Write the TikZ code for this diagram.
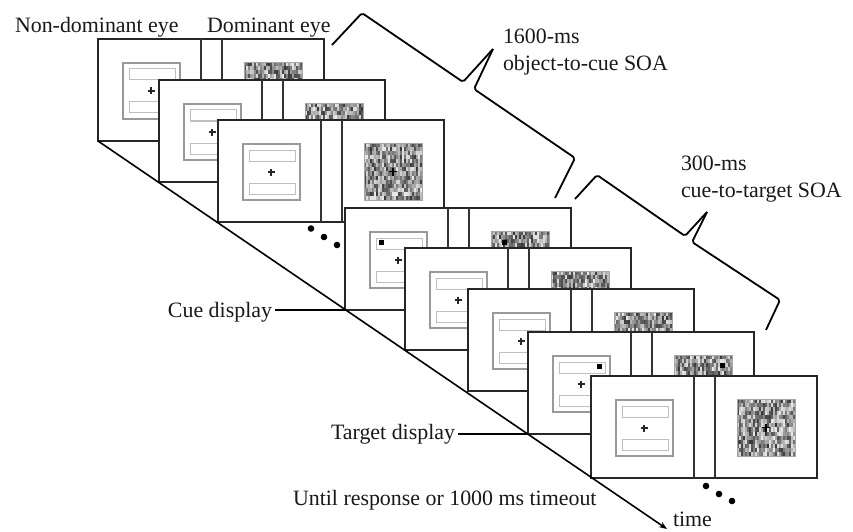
\documentclass[tikz,border=0pt]{standalone}
\usepackage{fontspec}
\setmainfont{Liberation Serif}
\usetikzlibrary{arrows.meta}
\begin{document}
\begin{tikzpicture}[x=1pt,y=-1pt,
  lbl/.style={font=\fontsize{21.9pt}{27pt}\selectfont, inner sep=0pt, outer xsep=3pt, text=black!90},
  frame/.style={fill=white, draw=black!85, line width=1.5pt},
  divider/.style={draw=black!80, line width=1.4pt},
  objsq/.style={draw=black!40, line width=1.3pt},
  bar/.style={draw=black!25, line width=1pt},
  fix/.style={draw=black!85, line width=1.6pt},
  cuesq/.style={fill=black},
  conn/.style={draw=black, line width=1.6pt},
  brace/.style={draw=black, line width=1.8pt, rounded corners=2pt, line join=round},
  dot/.style={fill=black}]
\useasboundingbox (0,0) rectangle (853,532);
\fill[white] (0,0) rectangle (853,532);
\pgfmathsetseed{4242}
% displays, back to front
\foreach \dx/\dy in {98/39,159/80,218/120,345/208,405/248,468/289,528/332,591/376}{
  \begin{scope}[shift={(\dx,\dy)}]
    \path[frame] (0,0) rectangle (226,102);
    \draw[divider] (103,0) -- (103,102);
    \draw[divider] (124,0) -- (124,102);
    % left eye: object frame with two bars and fixation cross
    \draw[objsq] (25,24) rectangle (82,80);
    \draw[bar] (31,30) rectangle (77,41);
    \draw[bar] (31,63) rectangle (77,74);
    \draw[fix] (49.5,52) -- (56.5,52);
    \draw[fix] (53,48.5) -- (53,55.5);
    % right eye: dynamic noise
    \fill[black!35] (146,23) rectangle (204,80);
    \foreach \i in {0,...,28}{
      \foreach \j in {0,...,13}{
        \pgfmathrandominteger{\g}{8}{78}
        \fill[black!\g] ({146+\i*2}, {23+\j*4.07}) rectangle ++(2.05,4.12);
      }
    }
    \draw[black!35, line width=0.8pt] (146,23) rectangle (204,80);
    \draw[black, line width=1.7pt] (171,51.5) -- (179,51.5);
    \draw[black, line width=1.7pt] (175,47.5) -- (175,55.5);
  \end{scope}
}
% cues
\fill[cuesq] (379,240) rectangle ++(4.5,4.5);
\fill[cuesq] (502,240) rectangle ++(4.5,4.5);
\fill[cuesq] (597,364) rectangle ++(4.5,4.5);
\fill[cuesq] (720,363) rectangle ++(4.5,4.5);
% corners on the time axis
\coordinate (start) at (98,141);
\coordinate (c4) at (345,310);
\coordinate (c7) at (528,434);
\coordinate (tend) at (667,529);
\draw[conn, -{Stealth[length=8pt,width=6pt]}] (start) -- (tend);
% ellipses
\foreach \p in {(311,228.5),(324,237),(337,245),(706,486),(719,494),(732,501)}
  \fill[dot] \p circle (3.3);
% braces
\draw[brace] (332,45) -- (362,13) -- (463,82) -- (493,49);
\draw[brace] (493,49) -- (474,89) -- (575,158) -- (555,198);
\draw[brace] (575,199) -- (597,175) -- (685,236) -- (707,212);
\draw[brace] (707,212) -- (692,242) -- (780,300) -- (766,330);
% labels
\node[lbl, anchor=base west] (nde) at (12,33) {Non-dominant eye};
\node[lbl, anchor=base west] (de) at (204,33) {Dominant eye};
\node[lbl, anchor=base west] (soa1a) at (500,44) {1600-ms};
\node[lbl, anchor=base west] (soa1b) at (500,71) {object-to-cue SOA};
\node[lbl, anchor=base west] (soa2a) at (678,170) {300-ms};
\node[lbl, anchor=base west] (soa2b) at (678,197) {cue-to-target SOA};
\node[lbl, anchor=base east] (cue) at (275,317) {Cue display};
\node[lbl, anchor=base east] (tgt) at (458,439) {Target display};
\node[lbl, anchor=base west] (until) at (290,505) {Until response or 1000 ms timeout};
\node[lbl, anchor=base west] (time) at (670,526) {time};
\draw[conn, line width=1.2pt] (c4) -- (c4 -| cue.east);
\draw[conn, line width=1.2pt] (c7) -- (c7 -| tgt.east);
\end{tikzpicture}
\end{document}
